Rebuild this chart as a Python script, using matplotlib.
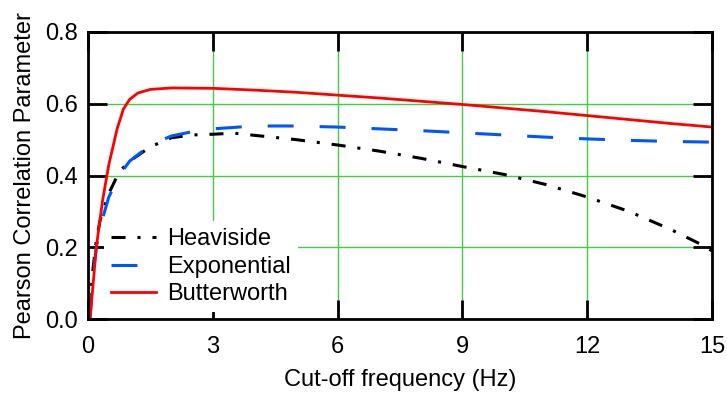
import matplotlib
matplotlib.use("Agg")
import matplotlib.pyplot as plt

plt.rcParams['font.family'] = ['Liberation Sans', 'DejaVu Sans']

# Cut-off frequency (Hz) and Pearson correlation values
heaviside_f = [0.05, 0.1, 0.2, 0.3, 0.5, 0.75, 1.0, 1.5, 2.0, 2.5, 3.0, 3.5, 4.0, 5.0,
               6.0, 7.0, 8.0, 9.0, 10.0, 11.0, 12.0, 13.0, 14.0, 14.7, 15.0]
heaviside_r = [0.02, 0.12, 0.22, 0.28, 0.35, 0.41, 0.44, 0.48, 0.505, 0.513, 0.515, 0.518,
               0.512, 0.5, 0.485, 0.468, 0.448, 0.425, 0.403, 0.375, 0.34, 0.3, 0.25, 0.21, 0.19]

expo_f = [0.05, 0.1, 0.2, 0.3, 0.5, 0.75, 1.0, 1.5, 2.0, 2.5, 3.0, 4.0, 5.0,
          6.0, 7.0, 8.0, 9.0, 10.0, 11.0, 12.0, 13.0, 14.0, 15.0]
expo_r = [0.0, 0.1, 0.2, 0.26, 0.34, 0.4, 0.44, 0.485, 0.51, 0.522, 0.53, 0.538, 0.538,
          0.535, 0.53, 0.525, 0.519, 0.513, 0.507, 0.502, 0.498, 0.495, 0.493]

butter_f = [0.05, 0.2, 0.35, 0.5, 0.7, 0.85, 1.0, 1.2, 1.5, 2.0, 3.0, 4.0, 5.0,
            6.0, 7.0, 8.0, 9.0, 10.0, 11.0, 12.0, 13.0, 14.0, 15.0]
butter_r = [0.0, 0.2, 0.33, 0.43, 0.53, 0.585, 0.612, 0.63, 0.64, 0.644, 0.643, 0.638, 0.632,
            0.624, 0.616, 0.607, 0.598, 0.588, 0.578, 0.567, 0.556, 0.545, 0.535]

x_ticks = [0, 3, 6, 9, 12, 15]
y_ticks = [0.0, 0.2, 0.4, 0.6, 0.8]

fig = plt.figure(figsize=(7.27, 3.94), dpi=100)
ax = fig.add_axes([88 / 727, 75 / 394, 624 / 727, 287 / 394])

ax.plot(heaviside_f, heaviside_r, color='black', lw=2.2,
        dashes=(4.6, 3.9, 1.0, 3.9), label='Heaviside')
ax.plot(expo_f, expo_r, color='#0055ff', lw=2.2,
        dashes=(8.5, 8.5), label='Exponential')
ax.plot(butter_f, butter_r, color='#ff0000', lw=2.0, label='Butterworth')

ax.set_xlim(0, 15)
ax.set_ylim(0, 0.8)
ax.set_xticks(x_ticks)
ax.set_yticks(y_ticks)
ax.set_xticklabels([str(t) for t in x_ticks])
ax.set_yticklabels([f'{t:.1f}' for t in y_ticks])

ax.grid(True, color='#44cc44', lw=1.0)
ax.set_axisbelow(True)
ax.tick_params(direction='in', length=14, width=2, top=True, right=True,
               labelsize=17)
ax.tick_params(axis='x', pad=12.5)
ax.tick_params(axis='y', pad=7)
for s in ax.spines.values():
    s.set_linewidth(2)

ax.set_xlabel('Cut-off frequency (Hz)', fontsize=17, labelpad=8)
ax.set_ylabel('Pearson Correlation Parameter', fontsize=17, labelpad=7)

leg = ax.legend(loc='lower left', bbox_to_anchor=(0.026, 0.023), borderaxespad=0,
                fontsize=17, frameon=True, fancybox=False, edgecolor='none',
                framealpha=1, handlelength=1.9, handletextpad=0.45,
                labelspacing=0.23, borderpad=0.3)

fig.savefig('out.png', dpi=100)
